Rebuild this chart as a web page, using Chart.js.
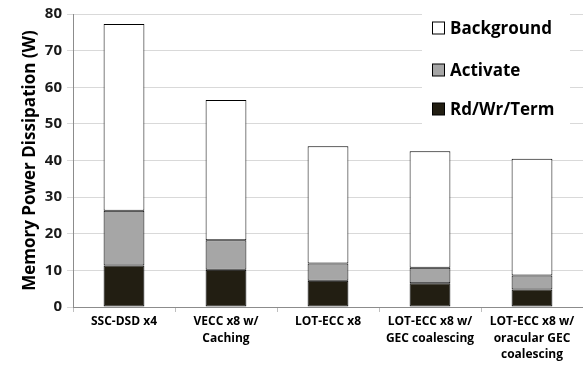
<!DOCTYPE html>
<html>
<head>
<meta charset="utf-8">
<script src="https://cdn.jsdelivr.net/npm/chart.js@4.4.1/dist/chart.umd.min.js"></script>
<style>
  html, body { margin: 0; padding: 0; background: #fff; }
  #wrap { width: 583px; height: 372px; }
</style>
</head>
<body>
<div id="wrap"><canvas id="myChart" width="583" height="372"></canvas></div>
<script>
// values (W)
var categories = [
    'SSC-DSD x4',
    ['VECC x8 w/', 'Caching'],
    'LOT-ECC x8',
    ['LOT-ECC x8 w/', 'GEC coalescing'],
    ['LOT-ECC x8 w/', 'oracular GEC', 'coalescing']
];
var rdWrTerm = [11.3, 10.2, 7.2, 6.5, 4.8];
var activate = [15.0, 8.0, 4.7, 4.2, 3.8];
var background = [51.0, 38.3, 32.0, 31.8, 31.9];
var yTicks = [0, 10, 20, 30, 40, 50, 60, 70, 80];

var FONT = '"Open Sans", Lato, sans-serif';

// legend drawn inside the plot, top right, last series first
var boxLegend = {
    id: 'boxLegend',
    afterDraw: function(chart) {
        var c = chart.ctx;
        var ds = chart.data.datasets.slice().reverse();
        c.save();
        c.fillStyle = '#fff';
        c.fillRect(422, 5, 148, 120);
        c.font = 'bold 17px ' + FONT;
        c.textBaseline = 'middle';
        var ys = [28, 70, 109];
        ds.forEach(function(d, i) {
            c.fillStyle = d.backgroundColor;
            c.fillRect(432.5, ys[i] - 6, 12, 12);
            c.strokeStyle = '#000';
            c.lineWidth = 1;
            c.strokeRect(432.5, ys[i] - 6, 12, 12);
            c.fillStyle = '#000';
            c.fillText(d.label, 450, ys[i] + 1);
        });
        c.restore();
    }
};

var dates = {
    type: 'bar',
    data: {
        labels: categories,
        datasets: [
            { label: 'Rd/Wr/Term', data: rdWrTerm, backgroundColor: '#221e12' },
            { label: 'Activate', data: activate, backgroundColor: '#a6a6a6' },
            { label: 'Background', data: background, backgroundColor: '#ffffff' }
        ]
    },
    options: {
        responsive: false,
        animation: false,
        layout: { padding: { top: 9, right: 0, left: 0, bottom: 0 } },
        datasets: {
            bar: {
                borderColor: '#000',
                borderWidth: 1,
                borderSkipped: false,
                categoryPercentage: 1,
                barPercentage: 0.4
            }
        },
        plugins: {
            legend: { display: false },
            tooltip: { enabled: false }
        },
        scales: {
            x: {
                stacked: true,
                afterFit: function(s) { s.height = 65; },
                grid: {
                    offset: true,
                    drawOnChartArea: false,
                    tickLength: 5,
                    color: '#bfbfbf'
                },
                border: { color: '#8c8c8c', width: 1 },
                ticks: {
                    color: '#000',
                    maxRotation: 0,
                    padding: 1,
                    font: { family: FONT, weight: 'bold', size: 12, lineHeight: 1.4 }
                }
            },
            y: {
                stacked: true,
                min: 0,
                max: 80,
                afterFit: function(s) { s.width = 73; },
                afterBuildTicks: function(s) {
                    s.ticks = yTicks.map(function(v) { return { value: v }; });
                },
                grid: { color: '#d9d9d9', tickLength: 6 },
                border: { color: '#8c8c8c', width: 1 },
                ticks: {
                    color: '#1a1a1a',
                    padding: 5,
                    font: { family: FONT, weight: 'bold', size: 15 }
                },
                title: {
                    display: true,
                    text: 'Memory Power Dissipation (W)',
                    color: '#000',
                    padding: { top: 20, bottom: 0 },
                    font: { family: FONT, weight: 'bold', size: 17 }
                }
            }
        }
    },
    plugins: [boxLegend]
};

const ctx = document.getElementById('myChart').getContext('2d');
const myChart = new Chart(ctx, dates);
</script>
</body>
</html>
